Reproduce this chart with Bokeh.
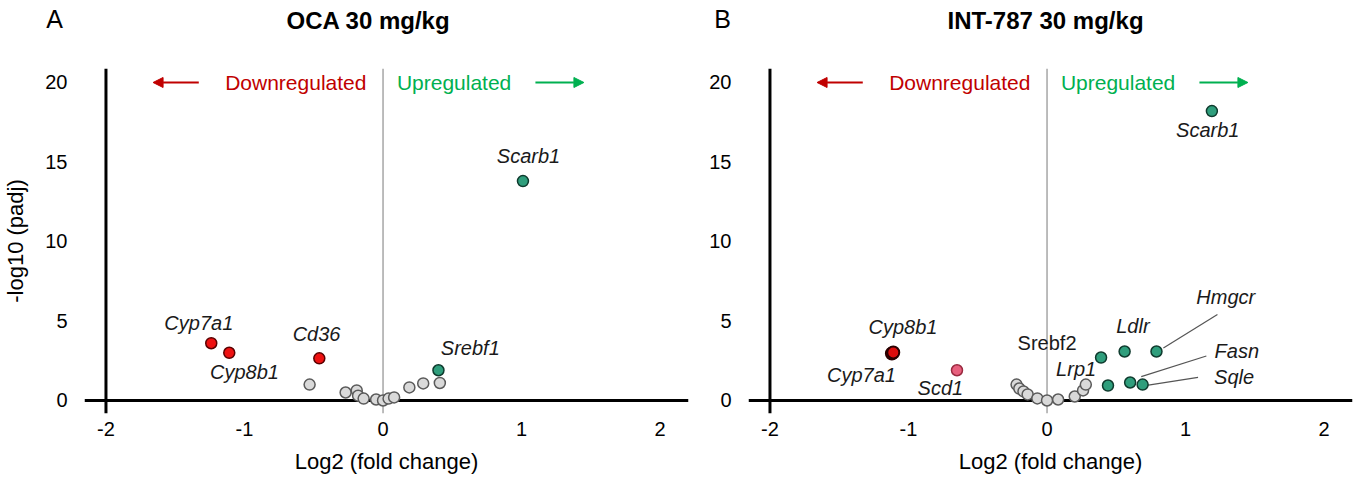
from bokeh.plotting import figure
from bokeh.layouts import row, column
from bokeh.models import Span, Arrow, NormalHead, Label, ColumnDataSource, Range1d, FixedTicker
from bokeh.core.properties import value
from bokeh.embed import file_html
from bokeh.resources import INLINE

FONT = "Liberation Sans"

# ---------------- data ----------------
x_ticks = [-2, -1, 0, 1, 2]
x_tick_labels = ["-2", "-1", "0", "1", "2"]
y_ticks = [0, 5, 10, 15, 20]

panel_letters = ["A", "B"]
panel_titles = ["OCA 30 mg/kg", "INT-787 30 mg/kg"]

# Panel A: OCA 30 mg/kg
a_grey_x = [-0.53, -0.27, -0.19, -0.18, -0.14, -0.05, 0.0, 0.04, 0.08, 0.19, 0.29, 0.41]
a_grey_y = [1.0, 0.5, 0.63, 0.3, 0.12, 0.06, 0.0, 0.12, 0.19, 0.82, 1.07, 1.1]
a_down_genes = ["Cyp7a1", "Cyp8b1", "Cd36"]
a_down_x = [-1.24, -1.11, -0.46]
a_down_y = [3.6, 3.0, 2.65]
a_up_genes = ["Scarb1", "Srebf1"]
a_up_x = [1.01, 0.40]
a_up_y = [13.8, 1.9]
a_label_text = ["Scarb1", "Cyp7a1", "Cyp8b1", "Cd36", "Srebf1"]
a_label_x = [1.05, -1.33, -1.0, -0.48, 0.63]
a_label_y = [15.4, 4.9, 1.76, 4.2, 3.3]
a_label_style = ["italic"] * 5

# Panel B: INT-787 30 mg/kg
b_grey_x = [-0.22, -0.2, -0.17, -0.14, -0.07, 0.0, 0.08, 0.2, 0.26, 0.28]
b_grey_y = [1.0, 0.75, 0.57, 0.38, 0.13, 0.0, 0.06, 0.25, 0.63, 1.0]
b_down_genes = ["Cyp7a1", "Cyp8b1"]
b_down_x = [-1.12, -1.11]
b_down_y = [2.95, 3.02]
b_mid_genes = ["Scd1"]
b_mid_x = [-0.65]
b_mid_y = [1.9]
b_up_genes = ["Scarb1", "Srebf2", "Ldlr", "Hmgcr", "Lrp1", "Fasn", "Sqle"]
b_up_x = [1.19, 0.39, 0.56, 0.79, 0.44, 0.60, 0.69]
b_up_y = [18.2, 2.7, 3.08, 3.08, 0.94, 1.13, 1.0]
b_label_text = ["Scarb1", "Cyp8b1", "Cyp7a1", "Scd1", "Srebf2", "Lrp1", "Ldlr", "Hmgcr", "Fasn", "Sqle"]
b_label_x = [1.16, -1.04, -1.34, -0.77, 0.0, 0.21, 0.62, 1.29, 1.37, 1.35]
b_label_y = [17.0, 4.6, 1.6, 0.8, 3.6, 1.95, 4.7, 6.5, 3.1, 1.5]
b_label_style = ["italic", "italic", "italic", "italic", "normal", "italic", "italic", "italic", "italic", "italic"]
b_leader_x0 = [0.84, 0.68, 0.72]
b_leader_y0 = [3.3, 1.5, 0.95]
b_leader_x1 = [1.23, 1.15, 1.09]
b_leader_y1 = [5.4, 2.8, 1.45]

X_RANGE = (-2.155, 2.205)
Y_RANGE = (-0.82, 20.88)

GREY_FILL, GREY_LINE = "#d9d9d9", "#5a5a5a"
RED_FILL, RED_LINE = "#ee1111", "#5a0000"
GREEN_FILL, GREEN_LINE = "#2f9e7c", "#0f3b2e"
DOWN_COL, UP_COL = "#c00000", "#00b050"

HEADER_H = 40

# ---------------- header with panel letters and titles ----------------
header = figure(width=1358, height=HEADER_H, output_backend="svg", toolbar_location=None,
                x_range=Range1d(0, 1358), y_range=Range1d(HEADER_H, 0),
                x_axis_type=None, y_axis_type=None, min_border=0)
header.outline_line_color = None
header.grid.visible = False
for lx, ly, txt in ((54, 18, panel_letters[0]), (722, 18, panel_letters[1])):
    header.add_layout(Label(x=lx, y=ly, text=txt, text_align="center", text_baseline="middle",
                            text_font=FONT, text_font_size="25px", text_color="black"))
for tx, ty, txt in ((368, 20, panel_titles[0]), (1045, 20, panel_titles[1])):
    header.add_layout(Label(x=tx, y=ty, text=txt, text_align="center", text_baseline="middle",
                            text_font=FONT, text_font_size="24px", text_font_style="bold",
                            text_color="black"))


def make_panel(width, border_left, border_right, show_ylabel):
    p = figure(width=width, height=482 - HEADER_H, output_backend="svg", toolbar_location=None,
               x_range=Range1d(*X_RANGE), y_range=Range1d(*Y_RANGE),
               min_border_left=border_left, min_border_right=border_right,
               min_border_top=68 - HEADER_H, min_border_bottom=69)
    p.outline_line_color = None
    p.grid.visible = False
    p.background_fill_color = "white"
    p.border_fill_color = "white"

    for ax, ticks in ((p.xaxis, x_ticks), (p.yaxis, y_ticks)):
        ax.ticker = FixedTicker(ticks=ticks)
        ax.axis_line_color = None
        ax.major_tick_line_color = None
        ax.minor_tick_line_color = None
        ax.major_tick_out = 0
        ax.major_tick_in = 0
        ax.major_label_text_font = FONT
        ax.major_label_text_font_size = "20px"
        ax.major_label_text_color = "black"
        ax.axis_label_text_font = FONT
        ax.axis_label_text_font_size = "22px"
        ax.axis_label_text_font_style = "normal"
        ax.axis_label_text_color = "black"
    p.xaxis.major_label_overrides = {t: s for t, s in zip(x_ticks, x_tick_labels)}
    p.xaxis.major_label_standoff = 8
    p.xaxis.axis_label = "Log2 (fold change)"
    p.xaxis.axis_label_standoff = 10
    p.yaxis.major_label_standoff = 17
    if show_ylabel:
        p.yaxis.axis_label = "-log10 (padj)"
        p.yaxis.axis_label_standoff = 14

    # axes lines crossing at (-2, 0) and zero line
    p.add_layout(Span(location=0, dimension="height", line_color="#a6a6a6", line_width=1.5, level="underlay"))
    p.add_layout(Span(location=-2, dimension="height", line_color="black", line_width=3, level="underlay"))
    p.add_layout(Span(location=0, dimension="width", line_color="black", line_width=3, level="underlay"))

    # direction texts and arrows
    p.add_layout(Label(x=-0.12, y=20.0, text="Downregulated", text_align="right", text_baseline="middle",
                       text_font=FONT, text_font_size="21px", text_color=DOWN_COL))
    p.add_layout(Label(x=0.1, y=20.0, text="Upregulated", text_align="left", text_baseline="middle",
                       text_font=FONT, text_font_size="21px", text_color=UP_COL))
    p.add_layout(Arrow(end=NormalHead(size=10, fill_color=DOWN_COL, line_color=DOWN_COL),
                       x_start=-1.33, y_start=20.0, x_end=-1.66, y_end=20.0,
                       line_color=DOWN_COL, line_width=2))
    p.add_layout(Arrow(end=NormalHead(size=10, fill_color=UP_COL, line_color=UP_COL),
                       x_start=1.10, y_start=20.0, x_end=1.45, y_end=20.0,
                       line_color=UP_COL, line_width=2))
    return p


def add_labels(p, texts, xs, ys, styles):
    src = ColumnDataSource(dict(x=xs, y=ys, text=texts, style=styles))
    p.text(x="x", y="y", text="text", source=src, text_font=value(FONT), text_font_size="20px",
           text_font_style="style", text_align="center", text_baseline="middle", text_color="#1a1a1a")


# ---------------- panel A ----------------
pa = make_panel(700, 82, 12, True)
pa.scatter(a_grey_x, a_grey_y, size=11, fill_color=GREY_FILL, line_color=GREY_LINE, line_width=1.5)
pa.scatter(a_down_x, a_down_y, size=11, fill_color=RED_FILL, line_color=RED_LINE, line_width=1.5)
pa.scatter(a_up_x, a_up_y, size=11, fill_color=GREEN_FILL, line_color=GREEN_LINE, line_width=1.5)
add_labels(pa, a_label_text, a_label_x, a_label_y, a_label_style)

# ---------------- panel B ----------------
pb = make_panel(658, 48, 6, False)
pb.segment(b_leader_x0, b_leader_y0, b_leader_x1, b_leader_y1, line_color="#555555", line_width=1.2)
pb.scatter(b_grey_x, b_grey_y, size=11, fill_color=GREY_FILL, line_color=GREY_LINE, line_width=1.5)
pb.scatter(b_down_x, b_down_y, size=12, fill_color="#dd0d0d", line_color="#2a0000", line_width=2)
pb.scatter(b_mid_x, b_mid_y, size=11, fill_color="#e8607e", line_color="#9a2a40", line_width=1.5)
pb.scatter(b_up_x, b_up_y, size=11, fill_color=GREEN_FILL, line_color=GREEN_LINE, line_width=1.5)
add_labels(pb, b_label_text, b_label_x, b_label_y, b_label_style)

layout = column(header, row(pa, pb, spacing=0), spacing=0)
open("out.html", "w").write(file_html(layout, INLINE))
